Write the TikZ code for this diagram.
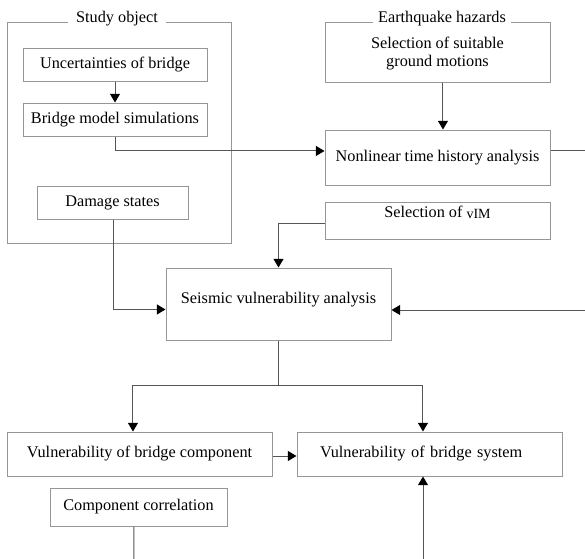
\documentclass[tikz,border=0pt]{standalone}
\usepackage{fontspec}
\setmainfont{Liberation Serif}
\usetikzlibrary{arrows.meta}

\tikzset{every picture/.style={line width=0.75pt}}
\tikzset{
  box/.style={draw={rgb, 255:red, 150; green, 150; blue, 150}, inner sep=0pt, align=center},
  frame/.style={draw={rgb, 255:red, 150; green, 150; blue, 150}},
  grouptitle/.style={fill=white, inner ysep=1pt},
  conn/.style={draw={rgb, 255:red, 85; green, 85; blue, 85}},
  arr/.style={-{Triangle[width=7.5pt,length=6.5pt,color=black]}},
}

\begin{document}
\begin{tikzpicture}[x=0.75pt,y=0.75pt,yscale=-1,xscale=1,font=\fontsize{12.2}{13}\selectfont]
        \useasboundingbox (0,0) rectangle (585,558);

        %Shape: Rectangle [Study object]
        \draw[frame] (7,22) rectangle (231,243);
        \node[grouptitle, inner xsep=6.4pt] (studytitle) at (117,19) {Study object};

        % Text Node
        \node[box, minimum width=138pt, minimum height=24.75pt] (uncert) at (115,64.5) {Uncertainties of bridge};
        % Text Node
        \node[box, minimum width=138pt, minimum height=24.75pt] (model) at (115,119.5) {Bridge model simulations};
        % Text Node
        \node[box, minimum width=113.25pt, minimum height=24.75pt] (damage) at (112.5,202.5) {Damage states};

        % Text Node [Earthquake hazards]
        \node[box, minimum width=168.75pt, minimum height=45pt, font=\fontsize{12.2}{13.6}\selectfont] (hazard) at (437.5,52) {\rule{0pt}{11pt}Selection of suitable\\ground motions};
        \node[grouptitle, inner xsep=3.75pt] (hazardtitle) at (442,19) {Earthquake hazards};
        % Text Node
        \node[box, minimum width=168.75pt, minimum height=41.25pt] (nonlin) at (437.5,157.5) {Nonlinear time history analysis};
        % Text Node
        \node[box, minimum width=168.75pt, minimum height=27.75pt, text depth=13.1pt] (vim) at (437.5,220.5) {Selection of \raisebox{-0.8pt}{\fontsize{10.5}{12}\selectfont vIM}};

        % Text Node
        \node[box, minimum width=168.75pt, minimum height=54pt, text depth=9.3pt] (seismic) at (278.5,304) {Seismic vulnerability analysis};

        % Text Node
        \node[box, minimum width=198.75pt, minimum height=33pt] (comp) at (139.5,454) {Vulnerability of bridge component};
        % Text Node
        \node[box, minimum width=198.75pt, minimum height=33pt, inner xsep=17.25pt, text width=164.25pt, align=left] (sys) at (429.5,454) {Vulnerability of bridge system};
        % Text Node
        \node[box, minimum width=132.75pt, minimum height=28.5pt] (corr) at (138.5,507) {Component correlation};

        \coordinate (split) at (278.5,385);
        \coordinate (corrout) at (134,562);
        \coordinate (sysin) at (423,562);

        %Straight Lines
        \draw[conn, arr] (uncert) -- (model);
        \draw[conn, arr] (model.south) |- ([yshift=-4.9pt]nonlin.west);
        \draw[conn, arr] ([xshift=4.1pt]hazard.south) -- ([xshift=4.1pt]nonlin.north);
        \draw[conn, arr] ([yshift=-5.6pt]nonlin.east) -- ++(45,0) |- ([yshift=4.5pt]seismic.east);
        \draw[conn, arr] ([yshift=1.9pt]vim.west) -| (seismic.north);
        \draw[conn, arr] ([xshift=1.1pt]damage.south) |- ([yshift=4.1pt]seismic.west);
        \draw[conn] (seismic.south) -- (split);
        \draw[conn, arr] (split) -| ([xshift=-4.9pt]comp.north);
        \draw[conn, arr] (split) -| ([xshift=-4.9pt]sys.north);
        \draw[conn, arr] ([yshift=1.5pt]comp.east) -- ([yshift=1.5pt]sys.west);
        \draw[conn] ([xshift=-3.4pt]corr.south) -- (corrout);
        \draw[conn, arr] (sysin) -- (sysin |- sys.south);

\end{tikzpicture}
\end{document}
